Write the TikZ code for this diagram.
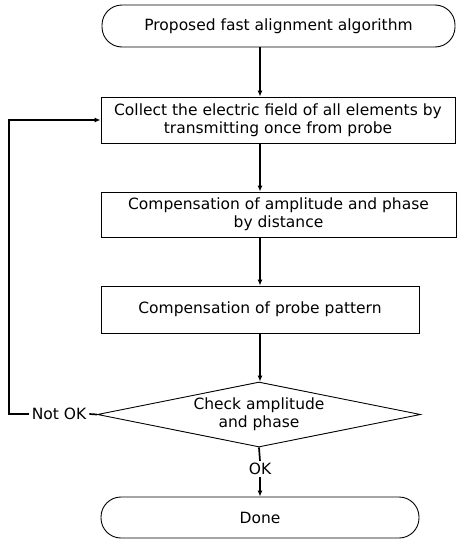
\documentclass[tikz,border=0pt]{standalone}
\usepackage{fontspec}
\setmainfont{DejaVu Sans}
\usepackage{tikz}
\usetikzlibrary{arrows.meta}
\usetikzlibrary{shapes.geometric}

\tikzset{
    box/.style={draw, line width=0.9pt, align=center, inner sep=0pt},
    term/.style={box, rounded corners=20pt},
    flow/.style={line width=1.7pt, -{Latex[length=6pt,width=5pt]}},
    wire/.style={line width=1.7pt},
}

\begin{document}
\begin{tikzpicture}[x=1pt, y=-1pt, font=\fontsize{15.5}{18}\selectfont]
    \useasboundingbox (0,0) rectangle (457,541);

    \node[term, minimum width=353pt, minimum height=42pt] (start) at (278.5,26) {Proposed fast alignment algorithm};
    \node[box, minimum width=354pt, minimum height=46pt] (collect) at (278,120) {Collect the electric field of all elements by\\transmitting once from probe};
    \node[box, minimum width=355pt, minimum height=45pt] (comp) at (278.5,214.5) {Compensation of amplitude and phase\\by distance};
    \node[box, minimum width=318pt, minimum height=47pt] (probe) at (260,309.5) {Compensation of probe pattern};
    \node[box, diamond, aspect=5, minimum width=323pt, minimum height=65pt] (check) at (259,414.5) {Check amplitude\\and phase};
    \node[term, minimum width=318pt, minimum height=41pt] (done) at (260,517.5) {Done};

    \node[inner sep=3pt] (notok) at (59,414) {Not OK};
    \node[inner sep=2pt] (ok) at (260,469) {OK};
    \coordinate (back) at (9,414);

    % main line
    \foreach \from/\to in {start/collect, collect/comp, comp/probe, probe/check}{
        \draw[flow] (\from.south -| probe.center) -- (\to.north -| probe.center);
    }
    \draw[wire] (check.south) -- (ok.north);
    \draw[flow] (ok.south) -- (done.north);

    % loop back
    \draw[wire] (check.west) -- (notok.east);
    \draw[flow] (notok.west) -- (back) |- (collect.west);

\end{tikzpicture}
\end{document}
